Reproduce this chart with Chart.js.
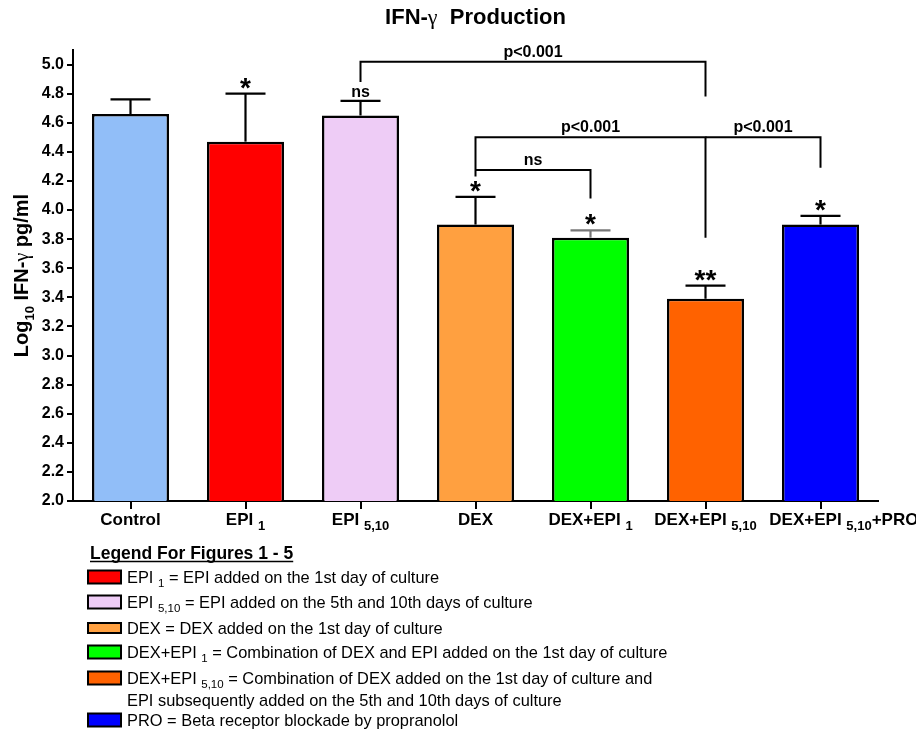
<!DOCTYPE html>
<html>
<head>
<meta charset="utf-8">
<script src="https://cdn.jsdelivr.net/npm/chart.js@4.4.1/dist/chart.umd.min.js"></script>
<style>
  html, body { margin: 0; padding: 0; background: #fff; }
  #wrap { width: 916px; height: 731px; position: relative; }
</style>
</head>
<body>
<div id="wrap"><canvas id="ifnChart"></canvas></div>
<script>
// groups along the x axis, split so the subscripts can be drawn
const groups = ['Control', 'EPI 1', 'EPI 5,10', 'DEX', 'DEX+EPI 1', 'DEX+EPI 5,10', 'DEX+EPI 5,10+PRO'];
const groupMain = ['Control', 'EPI ', 'EPI ', 'DEX', 'DEX+EPI ', 'DEX+EPI ', 'DEX+EPI '];
const groupSub = ['', '1', '5,10', '', '1', '5,10', '5,10'];
const groupTail = ['', '', '', '', '', '', '+PRO'];

// log10 IFN-gamma mean and SEM
const means = [4.66, 4.47, 4.65, 3.90, 3.81, 3.39, 3.90];
const sem = [0.10, 0.33, 0.10, 0.19, 0.05, 0.09, 0.06];
const marks = ['', '*', 'ns', '*', '*', '**', '*'];

// y ticks
const yMin = 2.0, yMax = 5.1, yStep = 0.2;

// comparison brackets: from group, to group, bar level, left end, right end, label
const brackets = [
  { from: 2, to: 5, level: 5.02, left: 4.88, right: 4.78, label: 'p<0.001' },
  { from: 3, to: 5, level: 4.50, left: 4.23, right: 3.81, label: 'p<0.001' },
  { from: 5, to: 6, level: 4.50, left: 4.50, right: 4.29, label: 'p<0.001' },
  { from: 3, to: 4, level: 4.275, left: 4.275, right: 4.08, label: 'ns' }
];

// legend under the chart
const legendKey = ['EPI ', 'EPI ', 'DEX', 'DEX+EPI ', 'DEX+EPI ', 'PRO'];
const legendSub = ['1', '5,10', '', '1', '5,10', ''];
const legendText = [
  [' = EPI added on the 1st day of culture'],
  [' = EPI added on the 5th and 10th days of culture'],
  [' = DEX added on the 1st day of culture'],
  [' = Combination of DEX and EPI added on the 1st day of culture'],
  [' = Combination of DEX added on the 1st day of culture and', 'EPI subsequently added on the 5th and 10th days of culture'],
  [' = Beta receptor blockade by propranolol']
];

const barColors = ['#91BEF8', '#FF0000', '#EECCF6', '#FFA040', '#00FF00', '#FF6200', '#0000FF'];
const legendColors = ['#FF0000', '#EECCF6', '#FFA040', '#00FF00', '#FF6200', '#0000FF'];
const errColors = ['#000', '#000', '#000', '#000', '#777', '#000', '#000'];

const SANS = '"Liberation Sans", Arial, Helvetica, sans-serif';
const SERIF = '"Liberation Serif", "Times New Roman", serif';

// draw a row of text pieces with different fonts, returns its width
function drawRuns(ctx, runs, x, y, align) {
    let w = 0;
    runs.forEach(r => { ctx.font = r.font; r.w = ctx.measureText(r.t).width; w += r.w; });
    let cx = align === 'center' ? x - w / 2 : x;
    ctx.textAlign = 'left';
    ctx.textBaseline = 'alphabetic';
    runs.forEach(r => { ctx.font = r.font; ctx.fillText(r.t, cx, y + (r.dy || 0)); cx += r.w; });
    return w;
}

function line(ctx, x1, y1, x2, y2) {
    ctx.beginPath();
    ctx.moveTo(x1, y1);
    ctx.lineTo(x2, y2);
    ctx.stroke();
}

// error bars, stars and brackets
const marksPlugin = {
    id: 'marks',
    afterDatasetsDraw(chart) {
        const ctx = chart.ctx, ys = chart.scales.y, xs = chart.scales.x;
        ctx.save();
        ctx.lineCap = 'butt';
        means.forEach((m, i) => {
            const x = xs.getPixelForValue(i);
            const yTop = ys.getPixelForValue(m);
            const yErr = ys.getPixelForValue(m + sem[i]);
            ctx.strokeStyle = errColors[i];
            ctx.lineWidth = 2.2;
            line(ctx, x, yTop, x, yErr);
            line(ctx, x - 20, yErr, x + 20, yErr);
            ctx.fillStyle = '#000';
            if (marks[i] === 'ns') {
                drawRuns(ctx, [{ t: 'ns', font: 'bold 16px ' + SANS }], x, yErr - 4, 'center');
            } else if (marks[i]) {
                drawRuns(ctx, [{ t: marks[i], font: 'bold 28px ' + SANS }], x, yErr + 3, 'center');
            }
        });
        ctx.strokeStyle = '#000';
        ctx.lineWidth = 2;
        brackets.forEach(b => {
            const x1 = xs.getPixelForValue(b.from), x2 = xs.getPixelForValue(b.to);
            const yl = ys.getPixelForValue(b.level);
            ctx.beginPath();
            ctx.moveTo(x1, ys.getPixelForValue(b.left));
            ctx.lineTo(x1, yl);
            ctx.lineTo(x2, yl);
            ctx.lineTo(x2, ys.getPixelForValue(b.right));
            ctx.stroke();
            ctx.fillStyle = '#000';
            drawRuns(ctx, [{ t: b.label, font: 'bold 16px ' + SANS }], (x1 + x2) / 2, yl - 5, 'center');
        });
        ctx.restore();
    },
    afterDraw(chart) {
        const ctx = chart.ctx, xs = chart.scales.x, area = chart.chartArea;
        ctx.save();
        ctx.fillStyle = '#000';
        const B = 'bold 22px ' + SANS;

        // title
        drawRuns(ctx, [
            { t: 'IFN-', font: B },
            { t: '\u03B3', font: '22px ' + SERIF },
            { t: '  Production', font: B }
        ], (area.left + area.right) / 2, 24, 'center');

        // y axis title, rotated
        ctx.save();
        ctx.translate(28, (area.top + area.bottom) / 2);
        ctx.rotate(-Math.PI / 2);
        const YB = 'bold 20px ' + SANS;
        drawRuns(ctx, [
            { t: 'Log', font: YB },
            { t: '10', font: 'bold 13px ' + SANS, dy: 6 },
            { t: ' IFN-', font: YB },
            { t: '\u03B3', font: '20px ' + SERIF },
            { t: ' pg/ml', font: YB }
        ], 0, 0, 'center');
        ctx.restore();

        // x tick labels with subscripts
        groups.forEach((g, i) => {
            const x = xs.getPixelForValue(i);
            const head = [{ t: groupMain[i], font: 'bold 17px ' + SANS }];
            if (groupSub[i]) head.push({ t: groupSub[i], font: 'bold 13px ' + SANS, dy: 5 });
            let w = 0;
            head.forEach(r => { ctx.font = r.font; w += ctx.measureText(r.t).width; });
            const x0 = x - w / 2;
            drawRuns(ctx, head, x0, 525, 'left');
            if (groupTail[i]) drawRuns(ctx, [{ t: groupTail[i], font: 'bold 17px ' + SANS }], x0 + w, 525, 'left');
        });

        // legend block
        const hw = drawRuns(ctx, [{ t: 'Legend For Figures 1 - 5', font: 'bold 17.5px ' + SANS }], 90, 559, 'left');
        ctx.strokeStyle = '#000';
        ctx.lineWidth = 1.5;
        line(ctx, 90, 561.5, 90 + hw, 561.5);

        const LF = '16.4px ' + SANS;
        const rowY = [577, 602, 628, 652, 678, 720];
        legendKey.forEach((k, i) => {
            const cy = rowY[i];
            const h = i === 2 ? 10 : 13;
            ctx.fillStyle = legendColors[i];
            ctx.fillRect(88, cy - h / 2, 33, h);
            ctx.strokeStyle = '#000';
            ctx.lineWidth = 2;
            ctx.strokeRect(88, cy - h / 2, 33, h);
            ctx.fillStyle = '#000';
            const runs = [{ t: k, font: LF }];
            if (legendSub[i]) runs.push({ t: legendSub[i], font: '11.5px ' + SANS, dy: 4 });
            runs.push({ t: legendText[i][0], font: LF });
            drawRuns(ctx, runs, 127, cy + 5.5, 'left');
            if (legendText[i][1]) {
                drawRuns(ctx, [{ t: legendText[i][1], font: LF }], 127, cy + 27.5, 'left');
            }
        });
        ctx.restore();
    }
};

const ifnChart = new Chart(document.getElementById('ifnChart').getContext('2d'), {
    type: 'bar',
    data: {
        labels: groups,
        datasets: [{
            data: means,
            backgroundColor: barColors,
            borderColor: '#000',
            borderWidth: 2.5,
            barPercentage: 0.67,
            categoryPercentage: 1.0
        }]
    },
    options: {
        responsive: true,
        maintainAspectRatio: false,
        animation: false,
        layout: { padding: { left: 0, right: 38, top: 50, bottom: 0 } },
        plugins: { legend: { display: false }, tooltip: { enabled: false } },
        scales: {
            x: {
                grid: { display: true, drawOnChartArea: false, offset: false, tickLength: 8, color: '#000', lineWidth: 2 },
                border: { display: true, color: '#000', width: 2 },
                ticks: { callback: () => '' },
                afterFit: s => { s.height = 230; }
            },
            y: {
                min: yMin,
                max: yMax,
                grid: { display: true, drawOnChartArea: false, tickLength: 6, color: '#000', lineWidth: 2 },
                border: { display: true, color: '#000', width: 2 },
                ticks: {
                    stepSize: yStep,
                    includeBounds: false,
                    padding: 3,
                    color: '#000',
                    font: { family: SANS, size: 16, weight: 'bold' },
                    callback: v => v.toFixed(1)
                },
                afterFit: s => { s.width = 73; }
            }
        }
    },
    plugins: [marksPlugin]
});
</script>
</body>
</html>
